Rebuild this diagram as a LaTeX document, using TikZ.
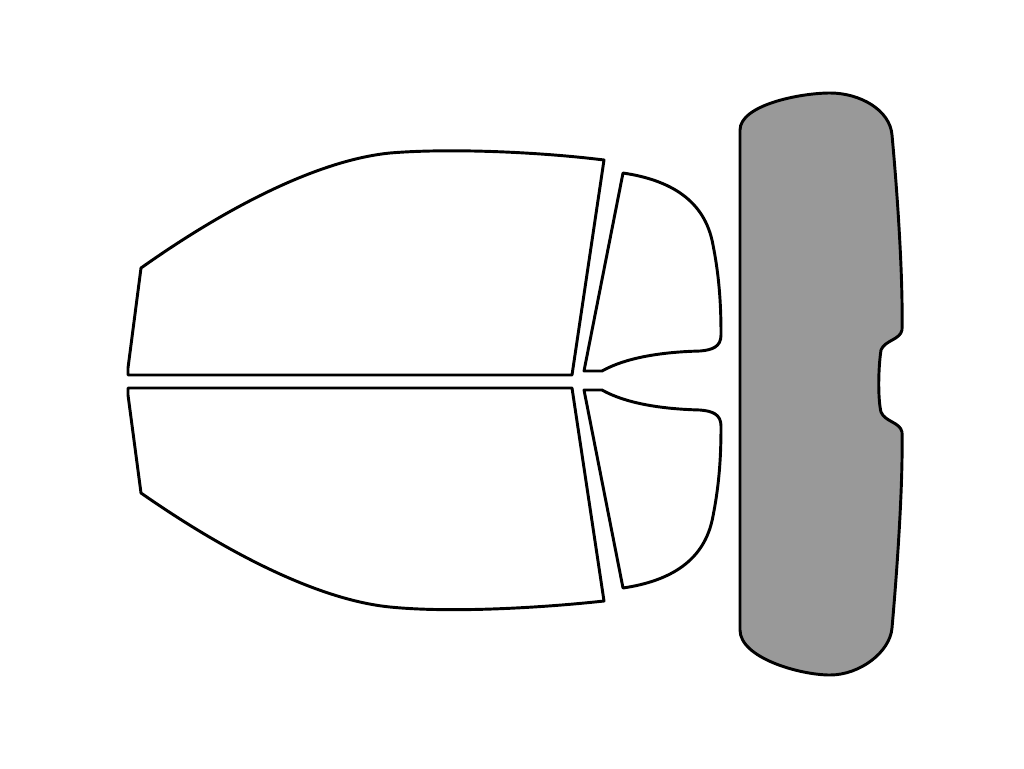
\documentclass[tikz,border=0pt]{standalone}
\begin{document}
\begin{tikzpicture}[x=0.75pt,y=-0.75pt,win/.style={draw=black,line width=2.2pt,line join=round,fill=white}]
\useasboundingbox (0,0) rectangle (1024,768);
% front windows
\draw[win] (141,268) .. controls (230,205) and (320,160) .. (390,153) .. controls (450,148) and (540,152) .. (604,160) -- (572,375) -- (128,375) -- (128,368) -- cycle;
\draw[win] (141,493) .. controls (230,555) and (320,600) .. (390,607) .. controls (450,613) and (540,608) .. (604,601) -- (572,388) -- (128,388) -- (128,395) -- cycle;
% rear side windows
\draw[win] (623,173) .. controls (670,180) and (705,200) .. (713,245) .. controls (720,280) and (721,310) .. (721,335) .. controls (721,347) and (712,350) .. (700,351) .. controls (660,352) and (625,358) .. (602,371) -- (584,371) -- cycle;
\draw[win] (623,588) .. controls (670,581) and (705,561) .. (713,516) .. controls (720,481) and (721,451) .. (721,426) .. controls (721,414) and (712,411) .. (700,410) .. controls (660,409) and (625,403) .. (602,390) -- (584,390) -- cycle;
% rear window
\draw[draw=black,line width=2.2pt,line join=round,fill=black!40]
 (740,130) .. controls (740,105) and (800,93) .. (830,93) .. controls (860,93) and (890,110) .. (892,135)
 .. controls (898,200) and (903,280) .. (902,330) .. controls (900,340) and (885,340) .. (881,350)
 .. controls (878,370) and (878,400) .. (881,412) .. controls (885,422) and (900,422) .. (902,432)
 .. controls (903,480) and (898,560) .. (892,628) .. controls (890,652) and (860,675) .. (830,675)
 .. controls (800,675) and (740,658) .. (740,630) -- cycle;
\end{tikzpicture}
\end{document}
